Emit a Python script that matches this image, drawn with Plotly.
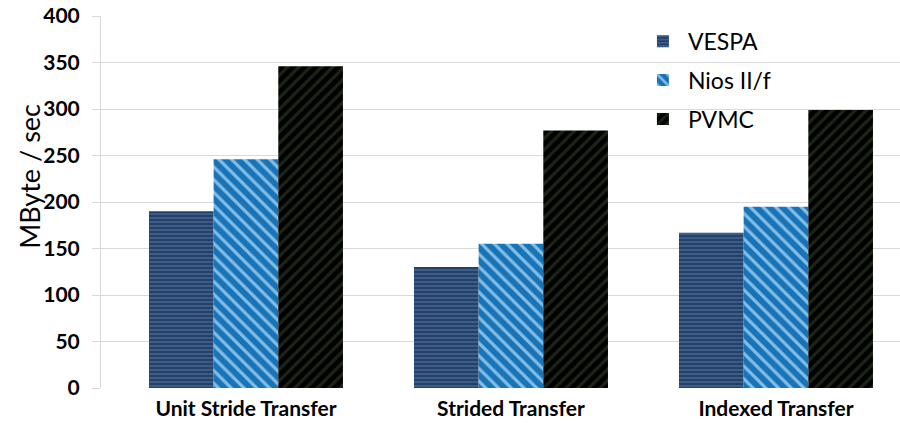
import plotly.graph_objects as go

categories = ["Unit Stride Transfer", "Strided Transfer", "Indexed Transfer"]
vespa = [190, 130, 167]
nios = [246, 155, 195]
pvmc = [346, 277, 299]
series_names = ["VESPA", "Nios II/f", "PVMC"]
y_ticks = [0, 50, 100, 150, 200, 250, 300, 350, 400]

FONT = "Lato"

fig = go.Figure()
styles = [
    dict(bg="#24416a", fg="#4f6f99", shape="-", size=4, solidity=0.3),
    dict(bg="#1874b8", fg="#86bde4", shape="\\", size=9, solidity=0.35),
    dict(bg="#000000", fg="#1c2414", shape="/", size=8, solidity=0.4),
]
for i, (name, vals) in enumerate(zip(series_names, [vespa, nios, pvmc])):
    s = styles[i]
    fig.add_trace(go.Bar(
        x=categories, y=vals, name=name, legendgroup=name,
        marker=dict(color=s["bg"], line=dict(width=0),
                    pattern=dict(shape=s["shape"], bgcolor=s["bg"], fgcolor=s["fg"],
                                 size=s["size"], solidity=s["solidity"], fillmode="replace")),
    ))

fig.update_layout(
    width=900, height=423,
    margin=dict(l=101, r=0, t=16, b=35),
    paper_bgcolor="white", plot_bgcolor="white",
    barmode="group", bargap=0.268, bargroupgap=0,
    font=dict(family=FONT, color="#000000"),
    legend=dict(x=0.672, y=0.99, xanchor="left", yanchor="top",
                font=dict(size=23, family=FONT), bgcolor="rgba(0,0,0,0)",
                traceorder="grouped", tracegroupgap=6, itemwidth=40),
    showlegend=True,
)
fig.update_xaxes(
    range=[-0.547, 2.468], showgrid=False, showline=False, ticks="",
    tickfont=dict(size=21, family=FONT, weight="bold"), ticklabelstandoff=6,
)
fig.update_yaxes(
    range=[0, 400], tickvals=y_ticks, showgrid=True, gridcolor="#d9d9d9", gridwidth=1,
    showline=True, linecolor="#d9d9d9", linewidth=1, ticks="outside", ticklen=8,
    tickcolor="#d9d9d9", ticklabelstandoff=8,
    tickfont=dict(size=21, family=FONT, weight="bold"), zeroline=False,
)
fig.add_annotation(
    text="MByte / sec", textangle=-90, xref="paper", yref="paper",
    x=-0.089, y=0.57, xanchor="center", yanchor="middle", showarrow=False,
    font=dict(size=27, family=FONT),
)
fig.write_html("out.html")
